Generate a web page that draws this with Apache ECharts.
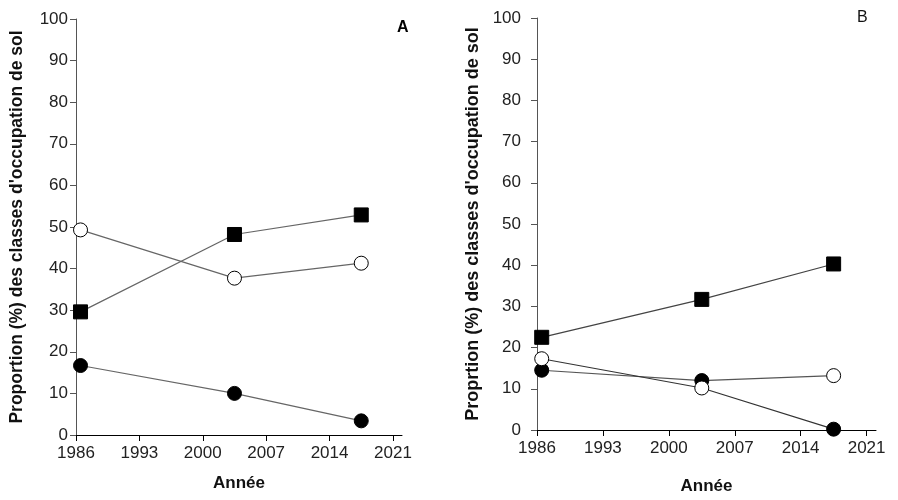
<!DOCTYPE html>
<html>
<head>
    <meta charset="utf-8" />
    <script src="https://cdn.jsdelivr.net/npm/echarts@6/dist/echarts.min.js"></script>
    <title>Occupation du sol</title>
    <style>
        body { margin: 0; background: #fff; }
        #chart { width: 898px; height: 500px; }
    </style>
</head>
<body>
    <div id="chart"></div>
    <script type="text/javascript">
        // years of the three images
        var years = [1986.5, 2003.5, 2017.5];
        var xTicks = [1986, 1993, 2000, 2007, 2014, 2021];

        // panel A
        var squaresA = [29.6, 48.2, 52.9];
        var openA = [49.3, 37.7, 41.3];
        var filledA = [16.7, 10.0, 3.4];

        // panel B (lines cross over between markers, as in the figure)
        var squaresB = [22.5, 31.7, 40.3];
        var lineB1 = [17.3, 10.2, 0.2];   // open, open, filled
        var lineB1Marks = ['open', 'open', 'filled'];
        var lineB2 = [14.5, 12.0, 13.2];  // filled, filled, open
        var lineB2Marks = ['filled', 'filled', 'open'];

        var font = 'Liberation Sans, Arial, sans-serif';

        function pairs(vals, marks) {
            return vals.map(function(v, i) {
                var item = { value: [years[i], v] };
                if (marks) {
                    item.itemStyle = marks[i] === 'open'
                        ? { color: '#fff', borderColor: '#000', borderWidth: 1 }
                        : { color: '#000', borderColor: '#000', borderWidth: 1 };
                }
                return item;
            });
        }

        function lineSeries(idx, vals, symbol, marks, fill, lineColor) {
            return {
                type: 'line',
                xAxisIndex: idx,
                yAxisIndex: idx,
                data: pairs(vals, marks),
                symbol: symbol,
                symbolSize: 14,
                lineStyle: { color: lineColor, width: 1.2 },
                itemStyle: { color: fill, borderColor: '#000', borderWidth: 1 },
                silent: true,
                animation: false
            };
        }

        function xAxis(idx, gap) {
            return {
                type: 'value',
                gridIndex: idx,
                min: 1986,
                max: 2022,
                interval: 7,
                name: 'Année',
                nameLocation: 'middle',
                nameGap: gap,
                nameTextStyle: { fontFamily: font, fontSize: 17, fontWeight: 'bold', color: '#111' },
                axisLine: { lineStyle: { color: '#000', width: 1 } },
                axisTick: { show: true, length: 6, customValues: xTicks, lineStyle: { color: '#000' } },
                axisLabel: {
                    customValues: xTicks,
                    margin: 10,
                    fontFamily: font,
                    fontSize: 17,
                    color: '#222',
                    formatter: function(v) { return String(v); }
                },
                splitLine: { show: false }
            };
        }

        function yAxis(idx, name, gap, margin, nameSize) {
            return {
                type: 'value',
                gridIndex: idx,
                min: 0,
                max: 100,
                interval: 10,
                name: name,
                nameLocation: 'middle',
                nameGap: gap,
                nameTextStyle: { fontFamily: font, fontSize: nameSize, fontWeight: 'bold', color: '#111' },
                axisLine: { show: true, lineStyle: { color: '#555', width: 1 } },
                axisTick: { show: true, length: 6, lineStyle: { color: '#555' } },
                axisLabel: { margin: margin, fontFamily: font, fontSize: 17, color: '#222' },
                splitLine: { show: false }
            };
        }

        var chart = echarts.init(document.getElementById('chart'), null, { renderer: 'canvas' });

        var option = {
            backgroundColor: '#fff',
            animation: false,
            title: [{
                text: 'A',
                left: 392,
                top: 15,
                textStyle: { fontFamily: font, fontSize: 16, fontWeight: 'bold', color: '#000' }
            }, {
                text: 'B',
                left: 852,
                top: 5,
                textStyle: { fontFamily: font, fontSize: 16, fontWeight: 'normal', color: '#111' }
            }],
            grid: [
                { left: 76, right: 496, top: 19, bottom: 65 },
                { left: 537, right: 22, top: 18, bottom: 66 }
            ],
            xAxis: [xAxis(0, 40), xAxis(1, 48)],
            yAxis: [
                yAxis(0, "Proportion (%) des classes d'occupation de sol", 50, 8, 17.5),
                yAxis(1, "Proprtion (%) des classes d'occupation de sol", 55, 16, 18)
            ],
            series: [
                lineSeries(0, squaresA, 'rect', null, '#000', '#666'),
                lineSeries(0, openA, 'circle', null, '#fff', '#666'),
                lineSeries(0, filledA, 'circle', null, '#000', '#666'),
                lineSeries(1, squaresB, 'rect', null, '#000', '#444'),
                lineSeries(1, lineB2, 'circle', lineB2Marks, '#000', '#555'),
                lineSeries(1, lineB1, 'circle', lineB1Marks, '#fff', '#333')
            ]
        };
        chart.setOption(option);
    </script>
</body>
</html>
